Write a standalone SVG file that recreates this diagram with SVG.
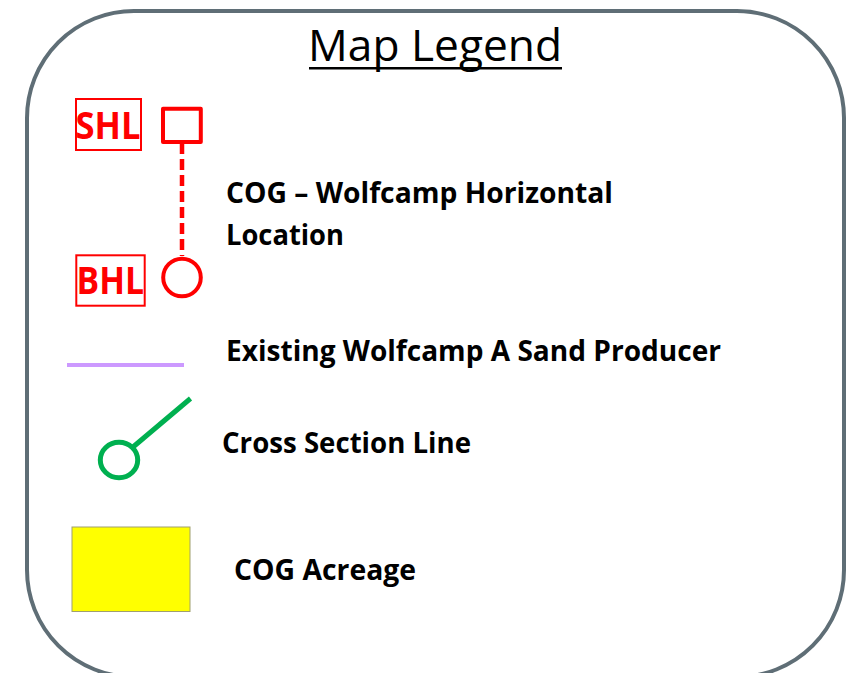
<svg xmlns="http://www.w3.org/2000/svg" width="855" height="673" viewBox="0 0 855 673">
<style>
.lbl{font-family:"Open Sans","Noto Sans","Liberation Sans",sans-serif;font-weight:700;font-size:28px;fill:#000}
.tag{font-family:"Open Sans","Noto Sans","Liberation Sans",sans-serif;font-weight:700;font-size:37px;fill:#f00}
.tagbox{fill:none;stroke:#f00;stroke-width:2}
</style>
<rect width="855" height="673" fill="#fff"/>
<g id="frame"><rect x="27" y="11" width="817" height="666" rx="107" ry="107" fill="#fff" stroke="#5f6e76" stroke-width="4"/></g>
<g id="title">
<text x="308" y="61" font-family="Open Sans, Noto Sans, Liberation Sans, sans-serif" font-size="43" textLength="254" lengthAdjust="spacingAndGlyphs" fill="#000">Map Legend</text>
<rect x="309" y="67" width="253" height="2.500" fill="#000"/>
</g>
<g id="connectors">
<line x1="182" y1="143" x2="182" y2="256" stroke="#f00" stroke-width="4.500" stroke-dasharray="11 5"/>
<line x1="133" y1="447" x2="190.500" y2="398.500" stroke="#00b050" stroke-width="5"/>
</g>
<g id="shl-label"><rect class="tagbox" x="76" y="99" width="65" height="51"/><text class="tag" x="75.500" y="139" textLength="65" lengthAdjust="spacingAndGlyphs">SHL</text></g>
<g id="shl-marker"><rect x="163" y="108.700" width="37.800" height="33.300" fill="#fff" stroke="#f00" stroke-width="4" stroke-linejoin="round"/></g>
<g id="bhl-label"><rect class="tagbox" x="76.300" y="255.300" width="68.400" height="50.400"/><text class="tag" x="76.500" y="294" textLength="67.500" lengthAdjust="spacingAndGlyphs">BHL</text></g>
<g id="bhl-marker"><circle cx="182" cy="277.500" r="18.800" fill="#fff" stroke="#f00" stroke-width="4"/></g>
<g id="cog-horizontal"><text class="lbl" x="226" y="203" textLength="387" lengthAdjust="spacingAndGlyphs">COG – Wolfcamp Horizontal</text><text class="lbl" x="226" y="245" textLength="118" lengthAdjust="spacingAndGlyphs">Location</text></g>
<g id="producer"><line x1="67" y1="365" x2="184" y2="365" stroke="#cc99ff" stroke-width="4"/><text class="lbl" x="226" y="361" textLength="495" lengthAdjust="spacingAndGlyphs">Existing Wolfcamp A Sand Producer</text></g>
<g id="cross-section"><ellipse cx="119" cy="460" rx="18.700" ry="17.700" fill="#fff" stroke="#00b050" stroke-width="5"/><text class="lbl" x="222" y="453" textLength="249" lengthAdjust="spacingAndGlyphs">Cross Section Line</text></g>
<g id="acreage"><rect x="72" y="527" width="118" height="84.500" fill="#ff0" stroke="#a09f70" stroke-width="1"/><text class="lbl" x="234" y="580" textLength="182" lengthAdjust="spacingAndGlyphs">COG Acreage</text></g>
</svg>
